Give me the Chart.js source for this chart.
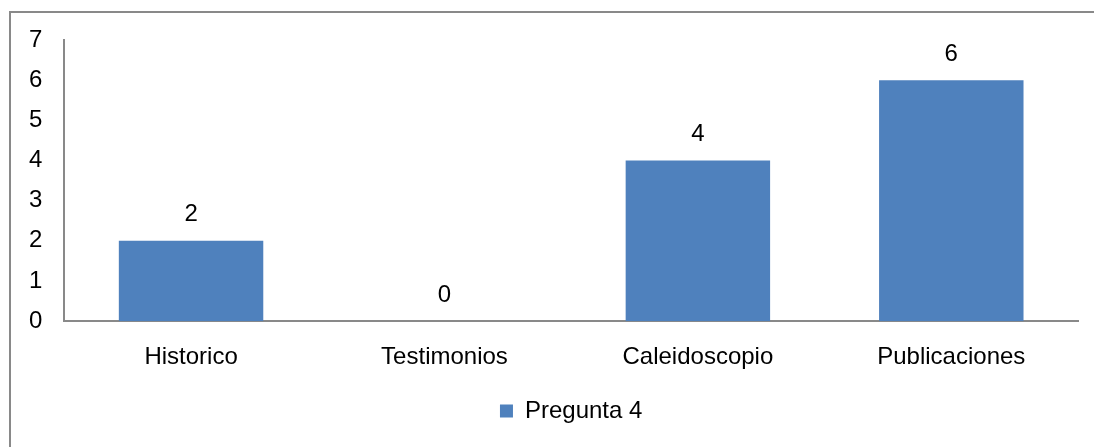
<!DOCTYPE html>
<html>
<head>
<meta charset="utf-8">
<script src="https://cdn.jsdelivr.net/npm/chart.js@4/dist/chart.umd.min.js"></script>
<style>
  html, body { margin: 0; padding: 0; overflow: hidden; background: #fff; }
  #frame { position: absolute; left: 9px; top: 11px; width: 1200px; height: 600px; border: 2px solid #898989; }
  /* the original frame runs past the right edge, so the canvas does too */
  #wrap { position: absolute; left: 0; top: 0; width: 1126px; height: 447px; }
</style>
</head>
<body>
<div id="frame"></div>
<div id="wrap"><canvas id="chart"></canvas></div>
<script>
const categories = ["Historico", "Testimonios", "Caleidoscopio", "Publicaciones"];
const seriesName = "Pregunta 4";
const values = [2, 0, 4, 6];
const yTicks = [0, 1, 2, 3, 4, 5, 6, 7];

const FONT = "'Liberation Sans', Arial, sans-serif";

// value labels above each bar
const valueLabels = {
  id: "valueLabels",
  afterDatasetsDraw(chart) {
    const ctx = chart.ctx;
    ctx.save();
    ctx.font = "24px " + FONT;
    ctx.fillStyle = "#000";
    ctx.textAlign = "center";
    ctx.textBaseline = "middle";
    chart.getDatasetMeta(0).data.forEach((bar, i) => {
      ctx.fillText(String(values[i]), bar.x, bar.y - 26);
    });
    ctx.restore();
  }
};

new Chart(document.getElementById("chart"), {
  type: "bar",
  data: {
    labels: categories,
    datasets: [{
      label: seriesName,
      data: values,
      backgroundColor: "#4F81BD",
      borderWidth: 0,
      categoryPercentage: 1,
      barPercentage: 0.57
    }]
  },
  options: {
    responsive: true,
    maintainAspectRatio: false,
    animation: false,
    layout: { padding: { left: 7, right: 48, top: 40, bottom: 14 } },
    plugins: {
      tooltip: { enabled: false },
      legend: {
        position: "bottom",
        fullSize: false,
        labels: {
          color: "#000",
          font: { family: FONT, size: 24 },
          boxWidth: 13,
          boxHeight: 13,
          padding: 5
        }
      }
    },
    scales: {
      x: {
        grid: { display: false, drawTicks: false },
        border: { color: "#898989", width: 2 },
        ticks: { color: "#000", font: { family: FONT, size: 24 }, padding: 22 }
      },
      y: {
        min: 0,
        max: 7,
        afterBuildTicks: (axis) => { axis.ticks = yTicks.map(v => ({ value: v })); },
        grid: { display: false, drawTicks: false },
        border: { color: "#898989", width: 2 },
        ticks: { color: "#000", font: { family: FONT, size: 24 }, padding: 22 }
      }
    }
  },
  plugins: [valueLabels]
});
</script>
</body>
</html>
